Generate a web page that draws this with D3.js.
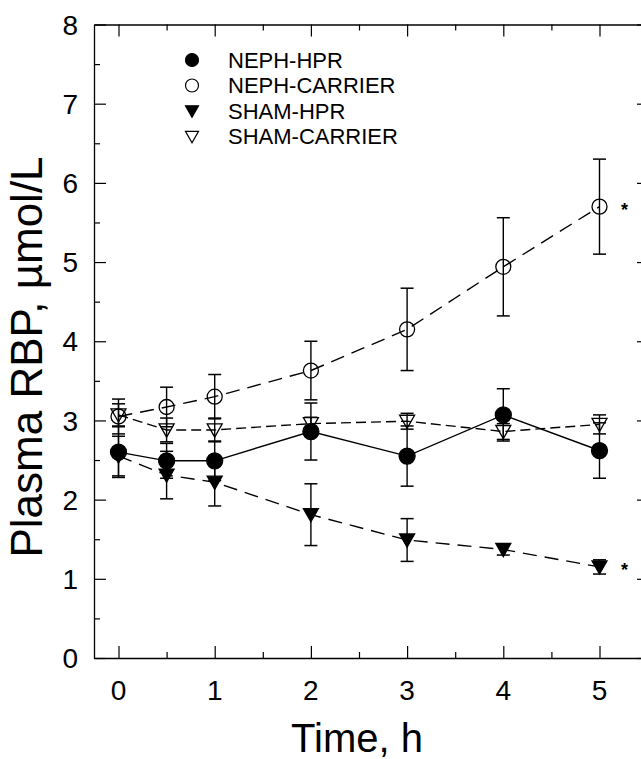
<!DOCTYPE html>
<html><head><meta charset="utf-8">
<script src="https://cdn.jsdelivr.net/npm/d3@7"></script>
<style>body{margin:0;background:#fff}svg{display:block}text{font-family:"Liberation Sans",Arial,sans-serif;fill:#000}</style>
</head><body>
<script>
const times = [0, 0.5, 1, 2, 3, 4, 5];
const nephHpr = [2.60, 2.49, 2.49, 2.86, 2.55, 3.07, 2.62];
const nephHprErr = [0.32, 0.22, 0.25, 0.36, 0.38, 0.33, 0.35];
const nephCarrier = [3.05, 3.17, 3.30, 3.63, 4.15, 4.94, 5.70];
const nephCarrierErr = [0.22, 0.25, 0.28, 0.37, 0.52, 0.62, 0.60];
const shamHpr = [2.55, 2.31, 2.22, 1.81, 1.49, 1.37, 1.15];
const shamHprErr = [0.25, 0.30, 0.30, 0.39, 0.27, 0.07, 0.09];
const shamCarrier = [3.07, 2.88, 2.88, 2.96, 2.99, 2.86, 2.95];
const shamCarrierErr = [0.14, 0.15, 0.15, 0.08, 0.10, 0.10, 0.12];
const xTicks = [0, 1, 2, 3, 4, 5];
const yTicks = [0, 1, 2, 3, 4, 5, 6, 7, 8];
const legendLabels = ["NEPH-HPR", "NEPH-CARRIER", "SHAM-HPR", "SHAM-CARRIER"];
const starTimes = [5, 5];
const starValues = [5.70, 1.15];

(function () {
const W = 641, H = 759;
const svg = d3.select("body").append("svg").attr("width", W).attr("height", H);
const x = d3.scaleLinear().domain([0, 5]).range([118.5, 599.5]);
const y = d3.scaleLinear().domain([0, 8]).range([658, 24.5]);
const pl = 94, pr = 649, pt = 24.5, pb = 658;
const xr = d3.scaleLinear().domain([x.invert(pl), x.invert(pr)]).range([pl, pr]);

const g = svg.append("g");
const stroke = "#000";
const minorX = d3.range(0.5, 5.5, 1);
const minorY = d3.range(0.5, 8, 1);
g.append("g").attr("transform", `translate(0,${pb})`)
  .call(d3.axisTop(xr).tickValues(xTicks).tickSize(12).tickFormat("").tickSizeOuter(0))
  .call(a => a.select(".domain").attr("stroke-width", 1.3));
g.append("g").attr("transform", `translate(0,${pb})`)
  .call(d3.axisTop(xr).tickValues(minorX).tickSize(6).tickFormat("").tickSizeOuter(0))
  .call(a => a.select(".domain").remove());
g.append("g").attr("transform", `translate(0,${pt})`)
  .call(d3.axisBottom(xr).tickValues(xTicks).tickSize(12).tickFormat("").tickSizeOuter(0))
  .call(a => a.select(".domain").attr("stroke-width", 1.3));
g.append("g").attr("transform", `translate(0,${pt})`)
  .call(d3.axisBottom(xr).tickValues(minorX).tickSize(6).tickFormat("").tickSizeOuter(0))
  .call(a => a.select(".domain").remove());
g.append("g").attr("transform", `translate(${pl},0)`)
  .call(d3.axisRight(y).tickValues(yTicks).tickSize(12).tickFormat("").tickSizeOuter(0))
  .call(a => a.select(".domain").attr("stroke-width", 1.3));
g.append("g").attr("transform", `translate(${pl},0)`)
  .call(d3.axisRight(y).tickValues(minorY).tickSize(6).tickFormat("").tickSizeOuter(0))
  .call(a => a.select(".domain").remove());
g.append("g").attr("transform", `translate(${pr},0)`)
  .call(d3.axisLeft(y).tickValues(yTicks).tickSize(12).tickFormat("").tickSizeOuter(0));
g.append("g").attr("transform", `translate(${pr},0)`)
  .call(d3.axisLeft(y).tickValues(minorY).tickSize(6).tickFormat("").tickSizeOuter(0))
  .call(a => a.select(".domain").remove());
g.selectAll(".tick line").attr("stroke-width", 1.2);

g.selectAll(".ylab").data(yTicks).enter().append("text")
  .attr("x", 78).attr("y", d => y(d)).attr("dy", "0.36em")
  .attr("text-anchor", "end").attr("font-size", 28).text(d => d);
g.selectAll(".xlab").data(xTicks).enter().append("text")
  .attr("x", d => x(d)).attr("y", 700)
  .attr("text-anchor", "middle").attr("font-size", 28).text(d => d);
svg.append("text").attr("x", 357).attr("y", 752).attr("text-anchor", "middle")
  .attr("font-size", 40).text("Time, h");
svg.append("text").attr("transform", `translate(42,357) rotate(-90)`)
  .attr("text-anchor", "middle").attr("font-size", 44).text("Plasma RBP, \u00b5mol/L");

const series = [
  {v: nephCarrier, e: nephCarrierErr, sym: "circle", fill: "none", dash: "14,8"},
  {v: shamCarrier, e: shamCarrierErr, sym: "tri", fill: "none", dash: "10,5"},
  {v: shamHpr, e: shamHprErr, sym: "tri", fill: "#000", dash: "14,8"},
  {v: nephHpr, e: nephHprErr, sym: "circle", fill: "#000", dash: null}
];
const line = d3.line().x(d => x(d[0])).y(d => y(d[1]));
const triPath = s => `M${-s},${-s*0.8}L${s},${-s*0.8}L0,${s*0.95}Z`;

series.forEach(s => {
  const pts = times.map((t, i) => [t, s.v[i], s.e[i]]);
  const sg = svg.append("g");
  sg.append("path").attr("d", line(pts)).attr("fill", "none").attr("stroke", stroke)
    .attr("stroke-width", 1.4).attr("stroke-dasharray", s.dash);
  const eb = sg.selectAll(".eb").data(pts).enter().append("g");
  eb.append("line").attr("x1", d => x(d[0])).attr("x2", d => x(d[0]))
    .attr("y1", d => y(d[1] + d[2])).attr("y2", d => y(d[1] - d[2])).attr("stroke", stroke).attr("stroke-width", 1.4);
  [1, -1].forEach(sn => {
    eb.append("line").attr("x1", d => x(d[0]) - 6.5).attr("x2", d => x(d[0]) + 6.5)
      .attr("y1", d => y(d[1] + sn * d[2])).attr("y2", d => y(d[1] + sn * d[2]))
      .attr("stroke", stroke).attr("stroke-width", 1.5);
  });
  if (s.sym === "circle") {
    sg.selectAll(".m").data(pts).enter().append("circle")
      .attr("cx", d => x(d[0])).attr("cy", d => y(d[1])).attr("r", s.fill === "none" ? 7.5 : 8)
      .attr("fill", s.fill).attr("stroke", stroke).attr("stroke-width", 1.3);
  } else {
    sg.selectAll(".m").data(pts).enter().append("path")
      .attr("transform", d => `translate(${x(d[0])},${y(d[1])})`).attr("d", triPath(7.5))
      .attr("fill", s.fill).attr("stroke", stroke).attr("stroke-width", 1.3);
  }
});

svg.selectAll(".star").data(starTimes.map((t, i) => [t, starValues[i]])).enter().append("text")
  .attr("x", d => x(d[0]) + 25).attr("y", d => y(d[1]) + 9).attr("text-anchor", "middle")
  .attr("font-size", 18).attr("font-weight", "bold").text("*");

const leg = svg.append("g");
const legSyms = [
  {sym: "circle", fill: "#000"}, {sym: "circle", fill: "none"},
  {sym: "tri", fill: "#000"}, {sym: "tri", fill: "none"}
];
legendLabels.forEach((lab, i) => {
  const cy = 60 + i * 25.5;
  if (legSyms[i].sym === "circle") {
    leg.append("circle").attr("cx", 192).attr("cy", cy).attr("r", 6.5)
      .attr("fill", legSyms[i].fill).attr("stroke", "#000").attr("stroke-width", 1.2);
  } else {
    leg.append("path").attr("transform", `translate(192,${cy})`).attr("d", triPath(6.5))
      .attr("fill", legSyms[i].fill).attr("stroke", "#000").attr("stroke-width", 1.2);
  }
  leg.append("text").attr("x", 228).attr("y", cy).attr("dy", "0.36em")
    .attr("font-size", 22).text(lab);
});
})();
</script>
</body></html>
